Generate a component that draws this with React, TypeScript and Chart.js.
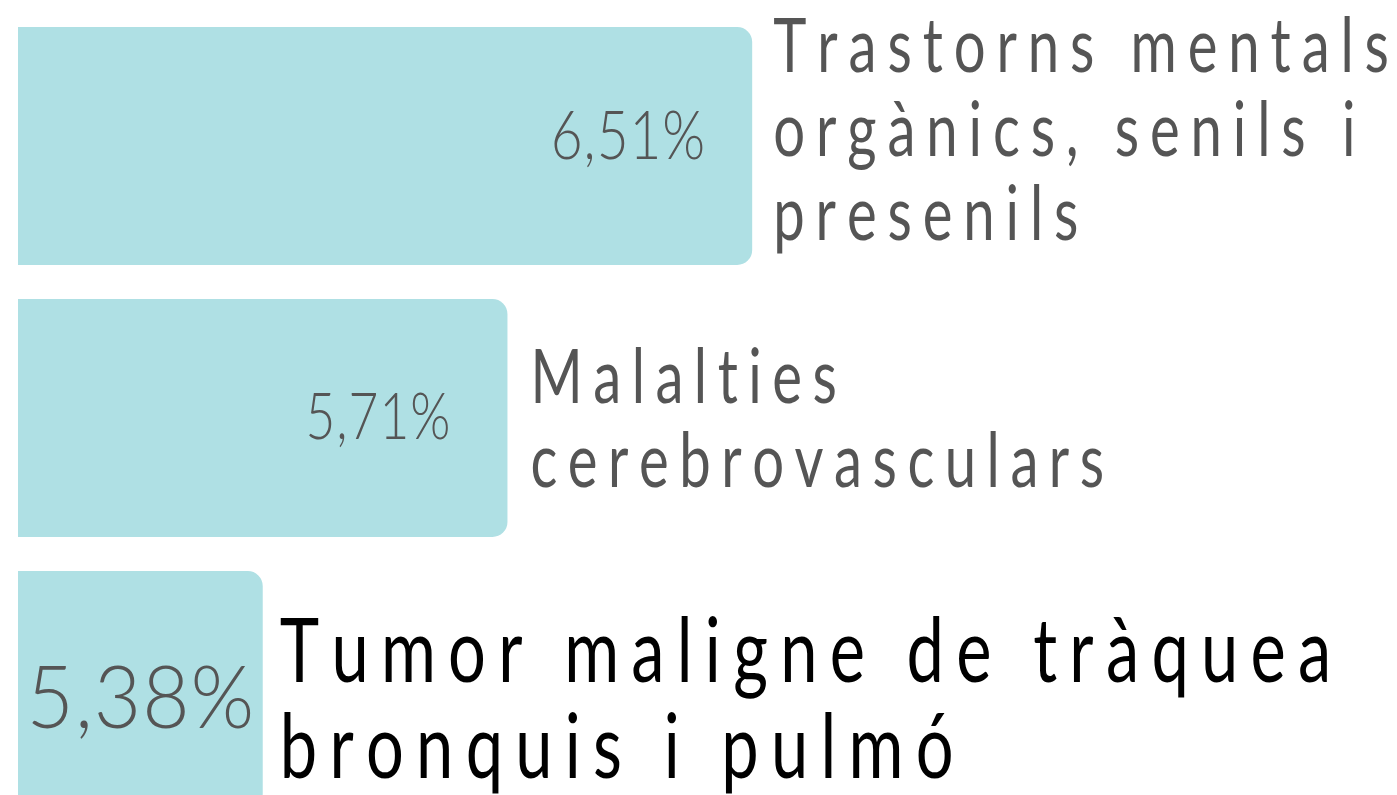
import React, { useEffect, useRef } from "react";
import { Chart, registerables } from "chart.js";

Chart.register(...registerables);

// ---- data ----
const categories = [
  "Trastorns mentals orgànics, senils i presenils",
  "Malalties cerebrovasculars",
  "Tumor maligne de tràquea bronquis i pulmó",
];
const labelLines = [
  ["Trastorns mentals", "orgànics, senils i", "presenils"],
  ["Malalties", "cerebrovasculars"],
  ["Tumor maligne de tràquea", "bronquis i pulmó"],
];
const percentages = [6.51, 5.71, 5.38];
// relative bar lengths as drawn in the picture (rank based)
const barLengths = [3, 2, 1];

// ---- styles ----
const BAR_COLOR = "#AFE0E4";
const GRAY = "#555555";
const rowStyles = [
  { vSize: 67, vSx: 0.82, vDy: -11, vAlign: "right", vPad: 47, lSize: 75, lLH: 84, lTop: -74, lColor: GRAY, lGap: 21, lSp: 0.145 },
  { vSize: 66, vSx: 0.78, vDy: -3, vAlign: "right", vPad: 57, lSize: 75, lLH: 84, lTop: -15, lColor: GRAY, lGap: 23, lSp: 0.14 },
  { vSize: 86, vSx: 0.95, vDy: 7, vAlign: "center", vPad: 0, lSize: 89, lLH: 96, lTop: -8, lColor: "#000000", lGap: 17, lSp: 0.138 },
];

function fmt(v: number) {
  return v.toFixed(2).replace(".", ",") + "%";
}

function drawSpaced(
  ctx: CanvasRenderingContext2D,
  text: string,
  x: number,
  y: number,
  sx: number,
  spacing: number,
  align: string
) {
  const chars = Array.from(text);
  const widths = chars.map((c) => ctx.measureText(c).width * sx);
  const total = widths.reduce((a, b) => a + b, 0) + spacing * (chars.length - 1);
  let cx = x;
  if (align === "right") cx = x - total;
  else if (align === "center") cx = x - total / 2;
  chars.forEach((c, i) => {
    ctx.save();
    ctx.translate(cx, y);
    ctx.scale(sx, 1);
    ctx.fillText(c, 0, 0);
    ctx.restore();
    cx += widths[i] + spacing;
  });
}

const labelPlugin = {
  id: "barTexts",
  afterDatasetsDraw(chart: any) {
    const ctx: CanvasRenderingContext2D = chart.ctx;
    const meta = chart.getDatasetMeta(0);
    meta.data.forEach((bar: any, i: number) => {
      const p = bar.getProps(["x", "y", "base"], true);
      const st = rowStyles[i];
      ctx.save();
      ctx.textBaseline = "alphabetic";
      ctx.textAlign = "left";
      // value label
      ctx.fillStyle = GRAY;
      ctx.font = `300 ${st.vSize}px Lato`;
      const capV = st.vSize * 0.72;
      const vy = p.y + st.vDy + capV / 2;
      const vx = st.vAlign === "center" ? (p.base + p.x) / 2 : p.x - st.vPad;
      drawSpaced(ctx, fmt(percentages[i]), vx, vy, st.vSx, 1, st.vAlign);
      // category label
      ctx.fillStyle = st.lColor;
      ctx.font = `400 ${st.lSize}px Lato`;
      labelLines[i].forEach((line, k) => {
        drawSpaced(ctx, line, p.x + st.lGap, p.y + st.lTop + k * st.lLH, 0.75, st.lSize * st.lSp, "left");
      });
      ctx.restore();
    });
  },
};

export default function App() {
  const ref = useRef<HTMLCanvasElement | null>(null);
  useEffect(() => {
    document.body.style.margin = "0";
    const canvas = ref.current!;
    const chart = new Chart(canvas, {
      type: "bar",
      data: {
        labels: categories,
        datasets: [
          {
            data: barLengths,
            backgroundColor: BAR_COLOR,
            borderRadius: 15,
            borderSkipped: "start",
            barPercentage: 0.875,
            categoryPercentage: 1,
          },
        ],
      },
      options: {
        indexAxis: "y",
        responsive: false,
        animation: false,
        devicePixelRatio: 1,
        layout: { padding: { left: 18, right: 33, top: 10, bottom: 0 } },
        scales: {
          x: { display: false, min: 0, max: 5.5 },
          y: { display: false },
        },
        plugins: {
          legend: { display: false },
          tooltip: { enabled: false },
        },
      },
      plugins: [labelPlugin],
    } as any);
    return () => chart.destroy();
  }, []);
  return (
    <div
      style={{
        position: "fixed",
        left: 0,
        top: 0,
        width: 1397,
        height: 795,
        overflow: "hidden",
        background: "#ffffff",
      }}
    >
      <canvas ref={ref} width={1397} height={826} style={{ display: "block" }} />
    </div>
  );
}
